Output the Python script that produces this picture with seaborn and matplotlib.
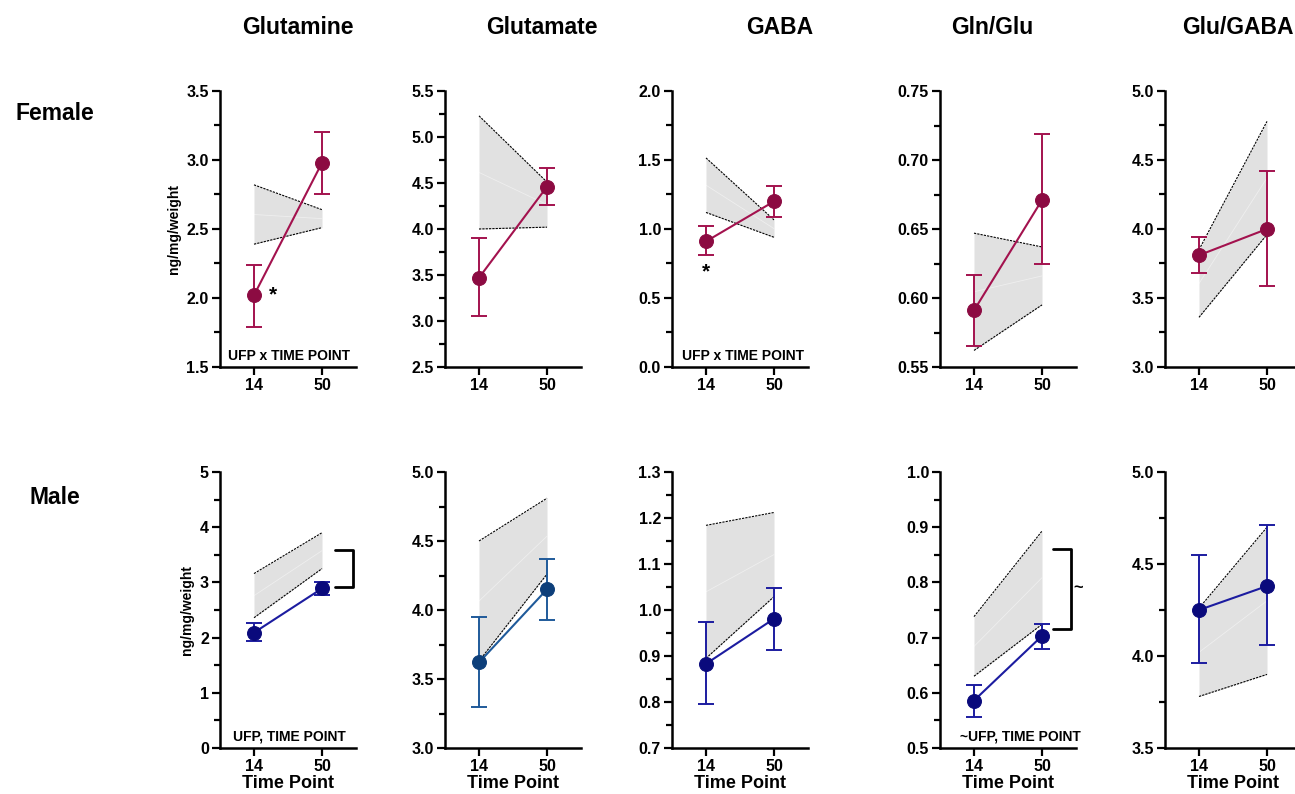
import numpy as np
import pandas as pd
import matplotlib
matplotlib.use("Agg")
import matplotlib.pyplot as plt
import seaborn as sns
from matplotlib.ticker import MultipleLocator, FormatStrFormatter

# valores
metricas = ['Glutamine', 'Glutamate', 'GABA', 'Gln/Glu', 'Glu/GABA']
tempos = ['14', '50']

# Female: media e barras de erro (dia 14, dia 50)
female_media = [[2.02, 2.98], [3.47, 4.46], [0.91, 1.20], [0.591, 0.671], [3.81, 4.00]]
female_inf = [[1.79, 2.75], [3.05, 4.26], [0.81, 1.09], [0.565, 0.625], [3.68, 3.59]]
female_sup = [[2.24, 3.20], [3.90, 4.66], [1.02, 1.31], [0.617, 0.719], [3.94, 4.42]]
# faixa cinza (controle)
female_faixa_inf = [[2.39, 2.51], [4.00, 4.02], [1.12, 0.94], [0.562, 0.595], [3.36, 3.96]]
female_faixa_sup = [[2.82, 2.64], [5.23, 4.51], [1.515, 1.066], [0.647, 0.637], [3.85, 4.78]]

# Male
male_media = [[2.09, 2.89], [3.62, 4.15], [0.883, 0.981], [0.586, 0.703], [4.25, 4.38]]
male_inf = [[1.94, 2.77], [3.30, 3.93], [0.795, 0.913], [0.557, 0.680], [3.96, 4.06]]
male_sup = [[2.26, 3.01], [3.95, 4.37], [0.973, 1.048], [0.614, 0.725], [4.55, 4.71]]
male_faixa_inf = [[2.36, 3.25], [3.63, 4.26], [0.895, 1.029], [0.630, 0.724], [3.78, 3.90]]
male_faixa_sup = [[3.16, 3.90], [4.50, 4.81], [1.184, 1.212], [0.738, 0.893], [4.26, 4.70]]

# eixos y
female_ylim = [(1.5, 3.5), (2.5, 5.5), (0.0, 2.0), (0.55, 0.75), (3.0, 5.0)]
female_passo = [0.5, 0.5, 0.5, 0.05, 0.5]
female_fmt = ['%.1f', '%.1f', '%.1f', '%.2f', '%.1f']
male_ylim = [(0, 5), (3.0, 5.0), (0.7, 1.3), (0.5, 1.0), (3.5, 5.0)]
male_passo = [1, 0.5, 0.1, 0.1, 0.5]
male_fmt = ['%d', '%.1f', '%.1f', '%.1f', '%.1f']

cor_female = '#8C0B42'
cor_female_linha = '#A3124E'
cor_male = ['#0A0A7C', '#0D3F7A', '#0A0A7C', '#0A0A7C', '#0A0A7C']
cor_male_linha = ['#1C1CA0', '#1F5A9A', '#1C1CA0', '#1C1CA0', '#1C1CA0']

sns.set_style('ticks')
plt.rcParams['font.family'] = ['Liberation Sans', 'DejaVu Sans']
plt.rcParams['font.weight'] = 'bold'
for k in ['text.color', 'axes.labelcolor', 'xtick.color', 'ytick.color', 'axes.edgecolor']:
    plt.rcParams[k] = 'black'

fig = plt.figure(figsize=(12.95, 7.94), dpi=100)

W, H = 1295, 794
lefts = [220, 445, 672, 940, 1165]
larg = 136
topo = [91, 472]
alt = 276


def painel(ax, media, inf, sup, f_inf, f_sup, ylim, passo, fmt, cor, cor_linha):
    x = np.array([0, 1])
    media = np.array(media)
    # faixa cinza
    ax.fill_between(x, f_inf, f_sup, color='#E1E1E1', lw=0, zorder=1)
    ax.plot(x, f_inf, color='black', lw=0.8, ls=(0, (2, 1)), zorder=2)
    ax.plot(x, f_sup, color='black', lw=0.8, ls=(0, (2, 1)), zorder=2)
    ax.plot(x, (np.array(f_inf) + np.array(f_sup)) / 2, color='white', lw=0.6, alpha=0.45, zorder=2)
    # barras de erro
    ax.errorbar(x, media, yerr=[media - np.array(inf), np.array(sup) - media], fmt='none',
                ecolor=cor_linha, elinewidth=1.4, capsize=6, capthick=1.4, zorder=3)
    df = pd.DataFrame({'pos': x, 'valor': media})
    sns.lineplot(data=df, x='pos', y='valor', ax=ax, color=cor_linha, lw=1.5, marker='o',
                 markersize=10, markerfacecolor=cor, markeredgecolor=cor, zorder=4)
    ax.set_xlim(-0.5, 1.5)
    ax.set_ylim(*ylim)
    ax.yaxis.set_major_locator(MultipleLocator(passo))
    ax.yaxis.set_minor_locator(MultipleLocator(passo / 2))
    ax.yaxis.set_major_formatter(FormatStrFormatter(fmt))
    ax.set_xticks(x)
    ax.set_xticklabels(tempos)
    ax.set_xlabel('')
    ax.set_ylabel('')
    sns.despine(ax=ax)
    for s in ['left', 'bottom']:
        ax.spines[s].set_linewidth(1.8)
    ax.tick_params(which='major', length=6, width=1.6, labelsize=11.5, pad=2)
    ax.tick_params(which='minor', length=4, width=1.6)
    for lab in ax.get_xticklabels() + ax.get_yticklabels():
        lab.set_fontweight('bold')


eixos = {}
for linha in range(2):
    for j in range(5):
        ax = fig.add_axes([lefts[j] / W, 1 - (topo[linha] + alt) / H, larg / W, alt / H])
        if linha == 0:
            painel(ax, female_media[j], female_inf[j], female_sup[j], female_faixa_inf[j],
                   female_faixa_sup[j], female_ylim[j], female_passo[j], female_fmt[j],
                   cor_female, cor_female_linha)
        else:
            painel(ax, male_media[j], male_inf[j], male_sup[j], male_faixa_inf[j],
                   male_faixa_sup[j], male_ylim[j], male_passo[j], male_fmt[j],
                   cor_male[j], cor_male_linha[j])
            ax.set_xlabel('Time Point', fontsize=13, fontweight='bold', labelpad=1)
        if j == 0:
            ax.set_ylabel('ng/mg/weight', fontsize=10, fontweight='bold')
        eixos[(linha, j)] = ax

# títulos das colunas
centros = [298, 542, 780, 992, 1238]
for c, nome in zip(centros, metricas):
    fig.text(c / W, 1 - 27 / H, nome, ha='center', va='center', fontsize=16.5, fontweight='bold')
fig.text(55 / W, 1 - 113 / H, 'Female', ha='center', va='center', fontsize=16.5, fontweight='bold')
fig.text(55 / W, 1 - 498 / H, 'Male', ha='center', va='center', fontsize=16.5, fontweight='bold')

# anotações
ax = eixos[(0, 0)]
ax.text(0.28, 2.02, '*', fontsize=15, fontweight='bold', ha='center', va='center')
ax.text(0.51, 0.015, 'UFP x TIME POINT', transform=ax.transAxes, ha='center', va='bottom',
        fontsize=10, fontweight='bold')
ax = eixos[(0, 2)]
ax.text(0, 0.69, '*', fontsize=15, fontweight='bold', ha='center', va='center')
ax.text(0.52, 0.015, 'UFP x TIME POINT', transform=ax.transAxes, ha='center', va='bottom',
        fontsize=10, fontweight='bold')
ax = eixos[(1, 0)]
ax.text(0.51, 0.015, 'UFP, TIME POINT', transform=ax.transAxes, ha='center', va='bottom',
        fontsize=10, fontweight='bold')
ax.plot([1.19, 1.46, 1.46, 1.19], [3.58, 3.58, 2.92, 2.92], color='black', lw=2, clip_on=False)
ax = eixos[(1, 3)]
ax.text(0.59, 0.015, '~UFP, TIME POINT', transform=ax.transAxes, ha='center', va='bottom',
        fontsize=10, fontweight='bold')
ax.plot([1.16, 1.43, 1.43, 1.16], [0.861, 0.861, 0.716, 0.716], color='black', lw=2, clip_on=False)
ax.text(1.53, 0.79, '~', fontsize=12, fontweight='bold', ha='center', va='center')

plt.savefig('out.png', dpi=100)
